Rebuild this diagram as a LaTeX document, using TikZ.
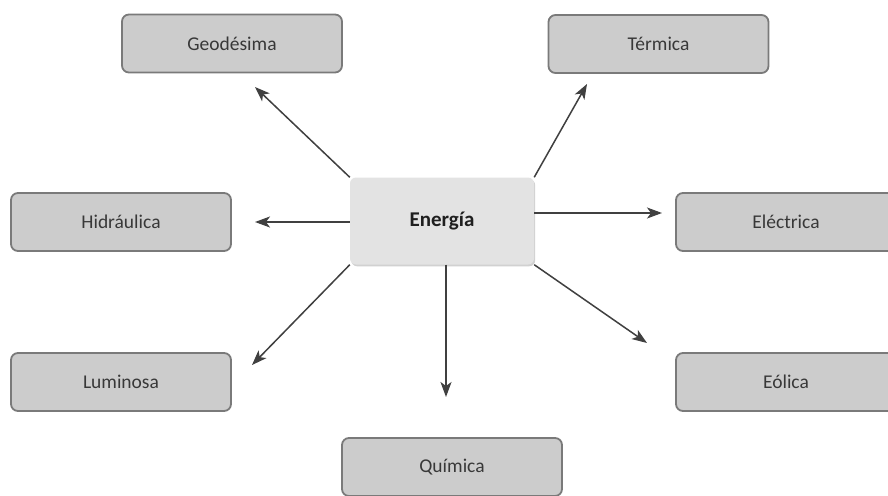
\documentclass[tikz,border=0pt]{standalone}
\usepackage{fontspec}
\setmainfont{Carlito}
\usetikzlibrary{arrows.meta,shadows}
\definecolor{boxfill}{HTML}{CCCCCC}
\definecolor{boxline}{HTML}{7A7A7A}
\definecolor{arrline}{HTML}{404040}
\definecolor{hubfill}{HTML}{E3E3E3}

\begin{document}
\begin{tikzpicture}[x=1pt,y=-1pt,
  kind/.style={rectangle,rounded corners=7pt,draw=boxline,line width=1.8pt,fill=boxfill,minimum width=220pt,minimum height=58pt,text=black!78,font=\fontsize{19.5}{21}\selectfont},
  hub/.style={rectangle,rounded corners=6pt,fill=hubfill,minimum width=184pt,minimum height=87pt,text=black!88,font=\fontsize{21}{23}\selectfont\bfseries,drop shadow={shadow xshift=1.2pt,shadow yshift=-1.8pt,fill=black!18,opacity=1}},
  arr/.style={draw=arrline,line width=1.5pt,-{Stealth[length=15pt,width=11pt,inset=4pt]}}]
\clip (0,0) rectangle (888,495);
\fill[white] (0,0) rectangle (888,495);
% centre
\node[hub] (egy) at (442,221) {Energía};
% forms of energy
\node[kind] (geod) at (232,43.5) {Geodésima};
\node[kind] (term) at (658.5,44) {Térmica};
\node[kind] (hidr) at (121,222) {Hidráulica};
\node[kind] (elec) at (786,222) {Eléctrica};
\node[kind] (lumi) at (121,382) {Luminosa};
\node[kind] (eoli) at (786,382) {Eólica};
\node[kind] (quim) at (452,467) {Química};
% arrow tips
\coordinate (tgeod) at (255,87);
\coordinate (tterm) at (587,84);
\coordinate (thidr) at (255,222);
\coordinate (telec) at (662,213);
\coordinate (tlumi) at (252,365);
\coordinate (teoli) at (647,343);
\coordinate (tquim) at (446,397);
\foreach \a/\t in %
{egy.north west/tgeod,egy.north east/tterm,egy.west |- thidr/thidr,egy.east |- telec/telec,
 egy.south west/tlumi,egy.south east/teoli,egy.south -| tquim/tquim} {
   \draw[arr] (\a) -- (\t);
}
\end{tikzpicture}
\end{document}
